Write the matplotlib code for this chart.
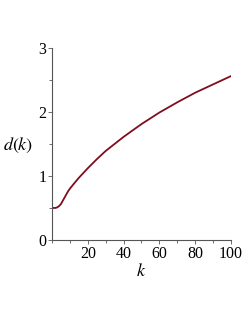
import numpy as np
import matplotlib
matplotlib.use("Agg")
import matplotlib.pyplot as plt
from matplotlib.ticker import MultipleLocator

plt.rcParams["mathtext.fontset"] = "stix"

# values
k = [0, 1, 2, 3, 4, 5, 6, 7, 8, 9, 10, 12, 15, 20, 25, 30, 35, 40, 50, 60, 70, 80, 90, 100]
d = [0.5, 0.5, 0.5, 0.51, 0.53, 0.56, 0.61, 0.66, 0.71, 0.76, 0.80, 0.87, 0.97, 1.12, 1.26, 1.39, 1.50, 1.61, 1.81, 1.99, 2.15, 2.30, 2.43, 2.56]

xticks = [20, 40, 60, 80, 100]
yticks = [0, 1, 2, 3]

fig = plt.figure(figsize=(2.45, 3.17), dpi=100)
ax = fig.add_axes([0.212, 0.243, 0.731, 0.606])

ax.plot(k, d, color="#800d1e", linewidth=1.3)

ax.set_xlim(0, 100)
ax.set_ylim(0, 3)
ax.set_xticks(xticks)
ax.set_yticks(yticks)
ax.xaxis.set_minor_locator(MultipleLocator(10))
ax.yaxis.set_minor_locator(MultipleLocator(0.5))

for s in ["top", "right"]:
    ax.spines[s].set_visible(False)
for s in ["left", "bottom"]:
    ax.spines[s].set_color("#555555")
    ax.spines[s].set_linewidth(0.8)

ax.tick_params(which="major", length=3, width=0.6, color="#555555", labelsize=11.5, pad=1)
ax.tick_params(which="minor", length=2, width=0.6, color="#555555")
for lab in ax.get_xticklabels() + ax.get_yticklabels():
    lab.set_fontfamily("Liberation Serif")

ax.set_xlabel("$k$", fontsize=13, va="center")
ax.set_ylabel("$d(k)$", fontsize=13, rotation=0, va="center", ha="center")
ax.xaxis.set_label_coords(0.5, -0.16)
ax.yaxis.set_label_coords(-0.19, 0.49)

plt.savefig("out.png", dpi=100)
